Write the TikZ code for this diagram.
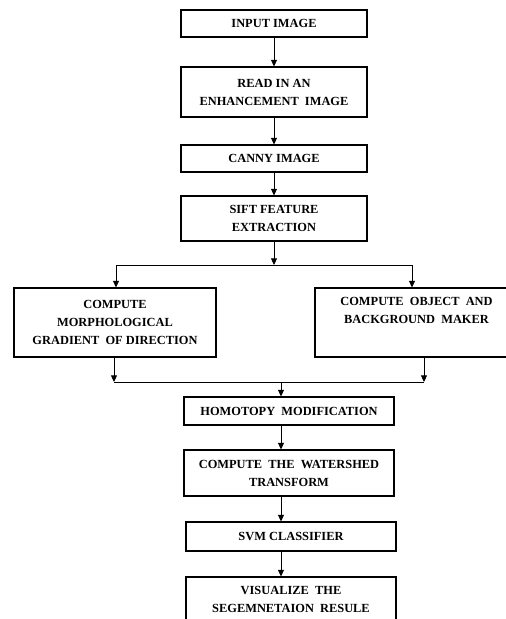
\documentclass[tikz,border=0pt]{standalone}
\usepackage{fontspec}
\setmainfont{Liberation Serif}
\usetikzlibrary{arrows.meta}
\begin{document}
\begin{tikzpicture}[x=0.75pt,y=-0.75pt,
  box/.style={draw=black,line width=0.8pt,align=center,inner sep=0pt,
    font=\fontsize{9.3}{13.5}\selectfont\bfseries},
  arr/.style={-{Triangle[length=5pt,width=4.5pt]},line width=0.75pt},
  ln/.style={line width=0.75pt}]
\useasboundingbox (0,0) rectangle (506,619);
\clip (0,0) rectangle (506,619);
\node[box,minimum width=139.5pt,minimum height=20.25pt] (in) at (274,23.5) {INPUT IMAGE};
\node[box,minimum width=139.5pt,minimum height=37.5pt] (read) at (274,92) {READ IN AN\\ENHANCEMENT\ \ IMAGE};
\node[box,minimum width=139.5pt,minimum height=20.25pt] (canny) at (274,158.5) {CANNY IMAGE};
\node[box,minimum width=139.5pt,minimum height=33.75pt] (sift) at (274,218.5) {SIFT FEATURE\\EXTRACTION};
\node[box,minimum width=151.5pt,minimum height=51.75pt] (left) at (115,322.5) {COMPUTE\\MORPHOLOGICAL\\GRADIENT\ \ OF DIRECTION};
\node[box,minimum width=152.25pt,minimum height=51.75pt] (right) at (416.5,322.5) {COMPUTE\ \ OBJECT\ \ AND\\BACKGROUND\ \ MAKER\\\strut};
\node[box,minimum width=157.5pt,minimum height=21pt] (homo) at (289,411) {HOMOTOPY\ \ MODIFICATION};
\node[box,minimum width=157.5pt,minimum height=34.5pt] (water) at (289,473) {COMPUTE\ \ THE\ \ WATERSHED\\TRANSFORM};
\node[box,minimum width=157.5pt,minimum height=21.75pt] (svm) at (291,536.5) {SVM CLASSIFIER};
\node[box,minimum width=157.5pt,minimum height=33.75pt] (vis) at (291,599.5) {VISUALIZE\ \ THE\\SEGEMNETAION\ \ RESULE};
\coordinate (split) at (274,265);
\coordinate (splitL) at (116,265);
\coordinate (splitR) at (412,265);
\coordinate (joinL) at (114,382);
\coordinate (joinR) at (424,382);
\coordinate (join) at (281,382);
\draw[arr] (in.south) -- (read.north);
\draw[arr] (read.south) -- (canny.north);
\draw[arr] (canny.south) -- (sift.north);
\draw[arr] (sift.south) -- (split);
\draw[ln] (splitL) -- (splitR);
\draw[arr] (splitL) -- (splitL |- left.north);
\draw[arr] (splitR) -- (splitR |- right.north);
\draw[arr] (left.south -| joinL) -- (joinL);
\draw[arr] (right.south -| joinR) -- (joinR);
\draw[ln] (joinL) -- (joinR);
\draw[arr] (join) -- (join |- homo.north);
\draw[arr] (homo.south -| join) -- (water.north -| join);
\draw[arr] (water.south -| join) -- (svm.north -| join);
\draw[arr] (svm.south -| join) -- (vis.north -| join);
\end{tikzpicture}
\end{document}
